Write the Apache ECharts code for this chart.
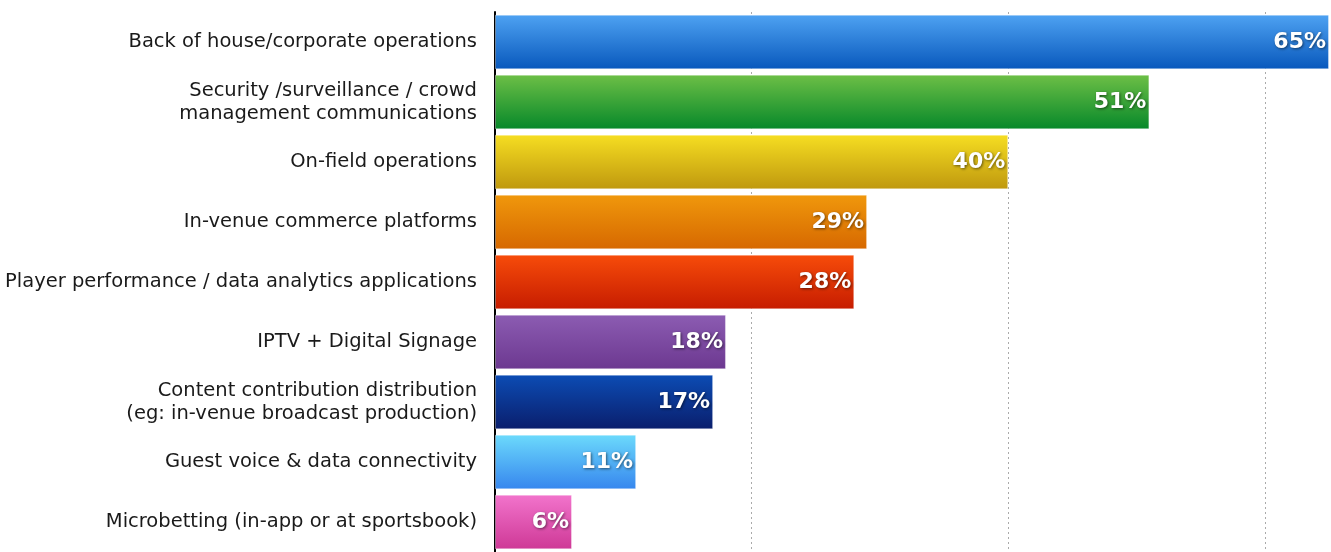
<!DOCTYPE html>
<html>
<head>
<meta charset="utf-8">
<script src="https://cdn.jsdelivr.net/npm/echarts@6/dist/echarts.min.js"></script>
<style>html,body{margin:0;padding:0;background:#fff}#c{width:1331px;height:552px}</style>
</head>
<body>
<div id="c"></div>
<script>
const categories = [
  "Back of house/corporate operations",
  "Security /surveillance / crowd\nmanagement communications",
  "On-field operations",
  "In-venue commerce platforms",
  "Player performance / data analytics applications",
  "IPTV + Digital Signage",
  "Content contribution distribution\n(eg: in-venue broadcast production)",
  "Guest voice & data connectivity",
  "Microbetting (in-app or at sportsbook)"
];
const values = [65, 51, 40, 29, 28, 18, 17, 11, 6];
const topColors = ["#4ea2f2", "#6dbf46", "#f6de22", "#f0980c", "#f74c0a", "#8c5cb2", "#0c4cb4", "#6cdafc", "#f274cc"];
const bottomColors = ["#0858bc", "#06882a", "#bf980e", "#d66800", "#c61c00", "#6c3890", "#0a1e6c", "#3686ee", "#ce3896"];

const chart = echarts.init(document.getElementById('c'));
chart.setOption({
  animation: false,
  grid: { left: 495, right: 2, top: 12, bottom: -1, containLabel: false },
  xAxis: {
    type: 'value', min: 0, max: 65, interval: 20,
    axisLine: { show: false }, axisTick: { show: false }, axisLabel: { show: false },
    splitLine: { show: true, showMaxLine: false, lineStyle: { color: '#aaaaaa', type: [2, 3], width: 1 } }
  },
  yAxis: {
    type: 'category', inverse: true, data: categories,
    axisLine: { show: true, lineStyle: { color: '#000', width: 2 } },
    axisTick: { show: false },
    axisLabel: {
      color: '#1a1a1a', fontFamily: 'DejaVu Sans', fontSize: 19.5, fontWeight: 'normal',
      lineHeight: 23, align: 'right', margin: 18
    }
  },
  series: [{
    type: 'bar',
    barCategoryGap: '9%',
    data: values.map((v, i) => ({
      value: v,
      itemStyle: {
        color: new echarts.graphic.LinearGradient(0, 0, 0, 1, [
          { offset: 0, color: topColors[i] },
          { offset: 1, color: bottomColors[i] }
        ]),
        borderColor: 'rgba(255,255,255,0.35)', borderWidth: 1
      }
    })),
    label: {
      show: true, position: 'insideRight', offset: [2, 0],
      formatter: '{c}%', color: '#fff', fontFamily: 'DejaVu Sans',
      fontSize: 22, fontWeight: 'bold',
      textShadowColor: 'rgba(0,0,0,0.55)', textShadowBlur: 3, textShadowOffsetX: 1, textShadowOffsetY: 1
    }
  }]
});
</script>
</body>
</html>
